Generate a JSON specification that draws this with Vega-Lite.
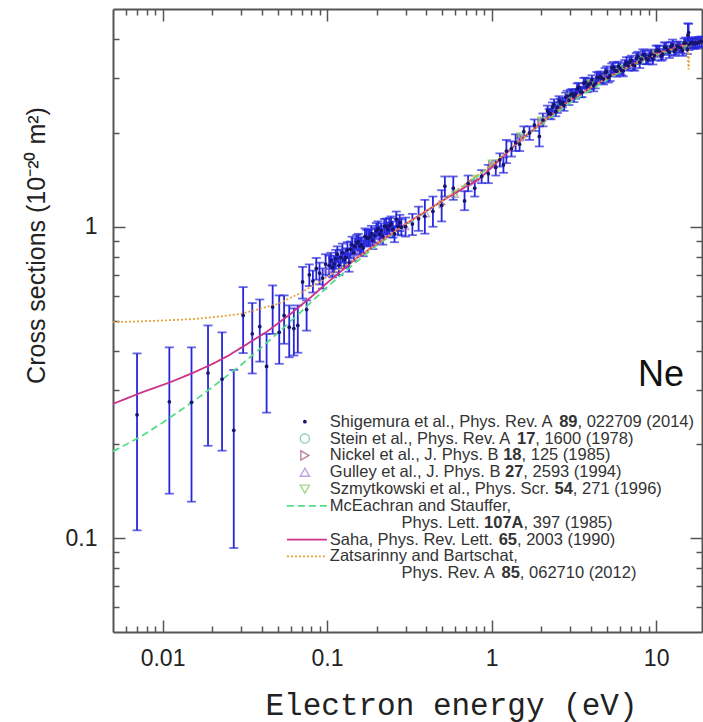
{
  "$schema": "https://vega.github.io/schema/vega-lite/v6.json",
  "width": 589,
  "height": 623,
  "autosize": {"type": "none"},
  "padding": {"left": 113, "top": 9, "right": 1, "bottom": 90},
  "background": "white",
  "config": {"view": {"stroke": null}, "font": "Liberation Sans"},
  "datasets": {
    "shigemura": [
      {"E":0.0070,"cs":0.249,"lo":0.106,"hi":0.392},
      {"E":0.0110,"cs":0.274,"lo":0.139,"hi":0.410},
      {"E":0.0150,"cs":0.273,"lo":0.131,"hi":0.410},
      {"E":0.0189,"cs":0.339,"lo":0.198,"hi":0.482},
      {"E":0.0230,"cs":0.324,"lo":0.191,"hi":0.458},
      {"E":0.0271,"cs":0.222,"lo":0.093,"hi":0.347},
      {"E":0.0309,"cs":0.519,"lo":0.393,"hi":0.640},
      {"E":0.0351,"cs":0.453,"lo":0.338,"hi":0.569},
      {"E":0.0390,"cs":0.478,"lo":0.369,"hi":0.584},
      {"E":0.0429,"cs":0.356,"lo":0.253,"hi":0.453},
      {"E":0.0467,"cs":0.552,"lo":0.453,"hi":0.648},
      {"E":0.0512,"cs":0.458,"lo":0.363,"hi":0.602},
      {"E":0.0548,"cs":0.519,"lo":0.421,"hi":0.602},
      {"E":0.0589,"cs":0.476,"lo":0.381,"hi":0.559},
      {"E":0.0628,"cs":0.471,"lo":0.386,"hi":0.547},
      {"E":0.0664,"cs":0.482,"lo":0.394,"hi":0.559},
      {"E":0.0710,"cs":0.665,"lo":0.588,"hi":0.743},
      {"E":0.0751,"cs":0.542,"lo":0.464,"hi":0.580},
      {"E":0.078,"cs":0.701,"lo":0.645,"hi":0.757},
      {"E":0.082,"cs":0.669,"lo":0.615,"hi":0.723},
      {"E":0.086,"cs":0.735,"lo":0.676,"hi":0.794},
      {"E":0.090,"cs":0.710,"lo":0.653,"hi":0.767},
      {"E":0.094,"cs":0.684,"lo":0.633,"hi":0.735},
      {"E":0.098,"cs":0.759,"lo":0.702,"hi":0.816},
      {"E":0.103,"cs":0.752,"lo":0.696,"hi":0.808},
      {"E":0.1055,"cs":0.778,"lo":0.731,"hi":0.825},
      {"E":0.108,"cs":0.740,"lo":0.688,"hi":0.792},
      {"E":0.1105,"cs":0.760,"lo":0.714,"hi":0.806},
      {"E":0.113,"cs":0.788,"lo":0.733,"hi":0.843},
      {"E":0.1155,"cs":0.816,"lo":0.767,"hi":0.865},
      {"E":0.118,"cs":0.752,"lo":0.699,"hi":0.805},
      {"E":0.121,"cs":0.796,"lo":0.748,"hi":0.844},
      {"E":0.124,"cs":0.825,"lo":0.767,"hi":0.883},
      {"E":0.127,"cs":0.783,"lo":0.736,"hi":0.830},
      {"E":0.130,"cs":0.797,"lo":0.741,"hi":0.853},
      {"E":0.133,"cs":0.842,"lo":0.791,"hi":0.893},
      {"E":0.136,"cs":0.767,"lo":0.717,"hi":0.817},
      {"E":0.139,"cs":0.846,"lo":0.795,"hi":0.897},
      {"E":0.142,"cs":0.876,"lo":0.823,"hi":0.929},
      {"E":0.145,"cs":0.825,"lo":0.776,"hi":0.875},
      {"E":0.148,"cs":0.864,"lo":0.812,"hi":0.916},
      {"E":0.1515,"cs":0.888,"lo":0.835,"hi":0.941},
      {"E":0.155,"cs":0.895,"lo":0.841,"hi":0.949},
      {"E":0.1585,"cs":0.868,"lo":0.816,"hi":0.920},
      {"E":0.162,"cs":0.874,"lo":0.822,"hi":0.926},
      {"E":0.166,"cs":0.855,"lo":0.804,"hi":0.906},
      {"E":0.170,"cs":0.932,"lo":0.876,"hi":0.988},
      {"E":0.174,"cs":0.922,"lo":0.867,"hi":0.977},
      {"E":0.178,"cs":0.919,"lo":0.864,"hi":0.974},
      {"E":0.182,"cs":0.926,"lo":0.870,"hi":0.982},
      {"E":0.186,"cs":0.950,"lo":0.893,"hi":1.007},
      {"E":0.190,"cs":0.902,"lo":0.848,"hi":0.956},
      {"E":0.195,"cs":0.936,"lo":0.880,"hi":0.992},
      {"E":0.1995,"cs":0.970,"lo":0.912,"hi":1.028},
      {"E":0.204,"cs":0.987,"lo":0.933,"hi":1.041},
      {"E":0.2085,"cs":0.947,"lo":0.890,"hi":1.004},
      {"E":0.213,"cs":0.971,"lo":0.918,"hi":1.024},
      {"E":0.218,"cs":0.932,"lo":0.876,"hi":0.988},
      {"E":0.223,"cs":1.004,"lo":0.949,"hi":1.059},
      {"E":0.2285,"cs":1.002,"lo":0.942,"hi":1.062},
      {"E":0.234,"cs":0.980,"lo":0.926,"hi":1.034},
      {"E":0.2395,"cs":1.007,"lo":0.947,"hi":1.067},
      {"E":0.245,"cs":1.023,"lo":0.967,"hi":1.079},
      {"E":0.251,"cs":0.981,"lo":0.922,"hi":1.040},
      {"E":0.257,"cs":0.949,"lo":0.892,"hi":1.006},
      {"E":0.2635,"cs":1.056,"lo":0.993,"hi":1.119},
      {"E":0.270,"cs":1.003,"lo":0.943,"hi":1.063},
      {"E":0.2765,"cs":1.030,"lo":0.968,"hi":1.092},
      {"E":0.283,"cs":0.997,"lo":0.937,"hi":1.057},
      {"E":0.300,"cs":1.00,"lo":0.93,"hi":1.07},
      {"E":0.330,"cs":1.02,"lo":0.94,"hi":1.10},
      {"E":0.360,"cs":1.06,"lo":0.97,"hi":1.16},
      {"E":0.393,"cs":1.08,"lo":0.95,"hi":1.22},
      {"E":0.440,"cs":1.12,"lo":1.00,"hi":1.25},
      {"E":0.497,"cs":1.17,"lo":1.04,"hi":1.31},
      {"E":0.520,"cs":1.35,"lo":1.25,"hi":1.45},
      {"E":0.585,"cs":1.33,"lo":1.22,"hi":1.45},
      {"E":0.685,"cs":1.21,"lo":1.13,"hi":1.30},
      {"E":0.720,"cs":1.38,"lo":1.30,"hi":1.46},
      {"E":0.790,"cs":1.33,"lo":1.25,"hi":1.41},
      {"E":0.870,"cs":1.45,"lo":1.38,"hi":1.52},
      {"E":0.955,"cs":1.48,"lo":1.38,"hi":1.58},
      {"E":1.060,"cs":1.55,"lo":1.46,"hi":1.63},
      {"E":1.123,"cs":1.64,"lo":1.56,"hi":1.72},
      {"E":1.180,"cs":1.58,"lo":1.49,"hi":1.67},
      {"E":1.230,"cs":1.75,"lo":1.60,"hi":1.90},
      {"E":1.320,"cs":1.78,"lo":1.68,"hi":1.88},
      {"E":1.400,"cs":1.86,"lo":1.75,"hi":1.98},
      {"E":1.480,"cs":1.84,"lo":1.75,"hi":1.93},
      {"E":1.570,"cs":2.02,"lo":1.95,"hi":2.10},
      {"E":1.700,"cs":2.00,"lo":1.90,"hi":2.10},
      {"E":1.820,"cs":2.12,"lo":2.03,"hi":2.21},
      {"E":1.950,"cs":1.95,"lo":1.81,"hi":2.10},
      {"E":2.050,"cs":2.20,"lo":2.10,"hi":2.31},
      {"E":2.188,"cs":2.354,"lo":2.260,"hi":2.448},
      {"E":2.239,"cs":2.306,"lo":2.225,"hi":2.387},
      {"E":2.291,"cs":2.304,"lo":2.212,"hi":2.396},
      {"E":2.344,"cs":2.421,"lo":2.336,"hi":2.506},
      {"E":2.399,"cs":2.467,"lo":2.368,"hi":2.566},
      {"E":2.455,"cs":2.344,"lo":2.262,"hi":2.426},
      {"E":2.512,"cs":2.415,"lo":2.318,"hi":2.512},
      {"E":2.570,"cs":2.536,"lo":2.447,"hi":2.625},
      {"E":2.630,"cs":2.484,"lo":2.385,"hi":2.583},
      {"E":2.692,"cs":2.506,"lo":2.418,"hi":2.594},
      {"E":2.754,"cs":2.453,"lo":2.355,"hi":2.551},
      {"E":2.818,"cs":2.603,"lo":2.512,"hi":2.694},
      {"E":2.884,"cs":2.628,"lo":2.523,"hi":2.733},
      {"E":2.951,"cs":2.547,"lo":2.458,"hi":2.636},
      {"E":3.020,"cs":2.649,"lo":2.543,"hi":2.755},
      {"E":3.090,"cs":2.672,"lo":2.578,"hi":2.766},
      {"E":3.162,"cs":2.618,"lo":2.513,"hi":2.723},
      {"E":3.236,"cs":2.668,"lo":2.575,"hi":2.761},
      {"E":3.311,"cs":2.773,"lo":2.662,"hi":2.884},
      {"E":3.388,"cs":2.799,"lo":2.701,"hi":2.897},
      {"E":3.467,"cs":2.711,"lo":2.603,"hi":2.819},
      {"E":3.548,"cs":2.701,"lo":2.606,"hi":2.796},
      {"E":3.631,"cs":2.888,"lo":2.772,"hi":3.004},
      {"E":3.715,"cs":2.908,"lo":2.806,"hi":3.010},
      {"E":3.802,"cs":2.814,"lo":2.701,"hi":2.927},
      {"E":3.890,"cs":2.862,"lo":2.762,"hi":2.962},
      {"E":3.981,"cs":2.881,"lo":2.766,"hi":2.996},
      {"E":4.074,"cs":2.959,"lo":2.855,"hi":3.063},
      {"E":4.169,"cs":2.833,"lo":2.720,"hi":2.946},
      {"E":4.266,"cs":2.882,"lo":2.781,"hi":2.983},
      {"E":4.365,"cs":3.019,"lo":2.898,"hi":3.140},
      {"E":4.467,"cs":3.011,"lo":2.906,"hi":3.116},
      {"E":4.571,"cs":3.031,"lo":2.910,"hi":3.152},
      {"E":4.677,"cs":2.992,"lo":2.887,"hi":3.097},
      {"E":4.786,"cs":2.981,"lo":2.862,"hi":3.100},
      {"E":4.898,"cs":3.124,"lo":3.015,"hi":3.233},
      {"E":5.012,"cs":3.146,"lo":3.020,"hi":3.272},
      {"E":5.129,"cs":3.008,"lo":2.903,"hi":3.113},
      {"E":5.248,"cs":3.057,"lo":2.935,"hi":3.179},
      {"E":5.370,"cs":3.230,"lo":3.117,"hi":3.343},
      {"E":5.495,"cs":3.249,"lo":3.119,"hi":3.379},
      {"E":5.623,"cs":3.172,"lo":3.061,"hi":3.283},
      {"E":5.754,"cs":3.157,"lo":3.031,"hi":3.283},
      {"E":5.888,"cs":3.272,"lo":3.157,"hi":3.387},
      {"E":6.026,"cs":3.226,"lo":3.097,"hi":3.355},
      {"E":6.166,"cs":3.179,"lo":3.068,"hi":3.290},
      {"E":6.310,"cs":3.164,"lo":3.037,"hi":3.291},
      {"E":6.457,"cs":3.314,"lo":3.198,"hi":3.430},
      {"E":6.607,"cs":3.365,"lo":3.230,"hi":3.500},
      {"E":6.761,"cs":3.285,"lo":3.170,"hi":3.400},
      {"E":6.918,"cs":3.369,"lo":3.234,"hi":3.504},
      {"E":7.079,"cs":3.422,"lo":3.302,"hi":3.542},
      {"E":7.244,"cs":3.307,"lo":3.175,"hi":3.439},
      {"E":7.413,"cs":3.287,"lo":3.172,"hi":3.402},
      {"E":7.586,"cs":3.473,"lo":3.334,"hi":3.612},
      {"E":7.762,"cs":3.523,"lo":3.400,"hi":3.646},
      {"E":7.943,"cs":3.367,"lo":3.232,"hi":3.502},
      {"E":8.128,"cs":3.451,"lo":3.330,"hi":3.572},
      {"E":8.318,"cs":3.571,"lo":3.428,"hi":3.714},
      {"E":8.511,"cs":3.553,"lo":3.429,"hi":3.677},
      {"E":8.710,"cs":3.464,"lo":3.325,"hi":3.603},
      {"E":8.913,"cs":3.445,"lo":3.324,"hi":3.566},
      {"E":9.120,"cs":3.531,"lo":3.390,"hi":3.672},
      {"E":9.333,"cs":3.583,"lo":3.458,"hi":3.708},
      {"E":9.550,"cs":3.456,"lo":3.318,"hi":3.594},
      {"E":9.772,"cs":3.544,"lo":3.420,"hi":3.668},
      {"E":10.00,"cs":3.667,"lo":3.520,"hi":3.814},
      {"E":10.23,"cs":3.684,"lo":3.555,"hi":3.813},
      {"E":10.47,"cs":3.664,"lo":3.517,"hi":3.811},
      {"E":10.72,"cs":3.533,"lo":3.409,"hi":3.657},
      {"E":10.96,"cs":3.580,"lo":3.437,"hi":3.723},
      {"E":11.22,"cs":3.774,"lo":3.642,"hi":3.906},
      {"E":11.48,"cs":3.750,"lo":3.600,"hi":3.900},
      {"E":11.75,"cs":3.688,"lo":3.559,"hi":3.817},
      {"E":12.02,"cs":3.626,"lo":3.481,"hi":3.771},
      {"E":12.30,"cs":3.786,"lo":3.653,"hi":3.919},
      {"E":12.59,"cs":3.836,"lo":3.683,"hi":3.989},
      {"E":12.88,"cs":3.661,"lo":3.533,"hi":3.789},
      {"E":13.18,"cs":3.711,"lo":3.563,"hi":3.859},
      {"E":13.49,"cs":3.798,"lo":3.665,"hi":3.931},
      {"E":13.80,"cs":3.772,"lo":3.621,"hi":3.923},
      {"E":14.13,"cs":3.746,"lo":3.615,"hi":3.877},
      {"E":14.45,"cs":3.682,"lo":3.535,"hi":3.829},
      {"E":14.79,"cs":3.884,"lo":3.748,"hi":4.020},
      {"E":15.14,"cs":3.894,"lo":3.738,"hi":4.050},
      {"E":15.49,"cs":3.715,"lo":3.585,"hi":3.845},
      {"E":15.60,"cs":4.12,"lo":3.90,"hi":4.50},
      {"E":15.75,"cs":4.20,"lo":3.95,"hi":4.48},
      {"E":15.85,"cs":3.84,"lo":3.69,"hi":3.99},
      {"E":16.22,"cs":3.890,"lo":3.754,"hi":4.026},
      {"E":16.60,"cs":3.901,"lo":3.745,"hi":4.057},
      {"E":16.98,"cs":3.87,"lo":3.72,"hi":4.02},
      {"E":17.40,"cs":3.90,"lo":3.75,"hi":4.05},
      {"E":17.80,"cs":3.88,"lo":3.73,"hi":4.03},
      {"E":18.30,"cs":3.92,"lo":3.77,"hi":4.07},
      {"E":18.80,"cs":3.93,"lo":3.78,"hi":4.08}
    ],
    "others": [
      {"series":"Stein","E":1.5,"cs":1.93},{"series":"Stein","E":2,"cs":2.18},{"series":"Stein","E":2.5,"cs":2.42},
      {"series":"Stein","E":3,"cs":2.6},{"series":"Stein","E":4,"cs":2.9},{"series":"Stein","E":5,"cs":3.06},
      {"series":"Stein","E":6,"cs":3.2},{"series":"Stein","E":8,"cs":3.42},{"series":"Stein","E":10,"cs":3.57},
      {"series":"Stein","E":12,"cs":3.68},{"series":"Stein","E":15,"cs":3.8},
      {"series":"Nickel","E":0.5,"cs":1.18},{"series":"Nickel","E":0.75,"cs":1.38},{"series":"Nickel","E":1,"cs":1.58},
      {"series":"Nickel","E":1.5,"cs":1.92},{"series":"Nickel","E":2,"cs":2.17},{"series":"Nickel","E":3,"cs":2.6},
      {"series":"Nickel","E":4,"cs":2.88},{"series":"Nickel","E":5,"cs":3.05},{"series":"Nickel","E":7,"cs":3.32},
      {"series":"Nickel","E":10,"cs":3.57},{"series":"Nickel","E":14,"cs":3.76},
      {"series":"Gulley","E":0.1,"cs":0.73},{"series":"Gulley","E":0.15,"cs":0.82},{"series":"Gulley","E":0.2,"cs":0.9},
      {"series":"Gulley","E":0.3,"cs":1.0},{"series":"Gulley","E":0.4,"cs":1.1},{"series":"Gulley","E":0.6,"cs":1.27},
      {"series":"Gulley","E":0.8,"cs":1.42},{"series":"Gulley","E":1,"cs":1.58},{"series":"Gulley","E":1.5,"cs":1.93},
      {"series":"Gulley","E":2,"cs":2.18},{"series":"Gulley","E":3,"cs":2.6},{"series":"Gulley","E":5,"cs":3.05},
      {"series":"Gulley","E":7,"cs":3.32},{"series":"Gulley","E":10,"cs":3.57},
      {"series":"Szmytkowski","E":0.6,"cs":1.27},{"series":"Szmytkowski","E":0.8,"cs":1.43},{"series":"Szmytkowski","E":1,"cs":1.6},
      {"series":"Szmytkowski","E":1.5,"cs":1.96},{"series":"Szmytkowski","E":2,"cs":2.2},{"series":"Szmytkowski","E":3,"cs":2.62},
      {"series":"Szmytkowski","E":4,"cs":2.9},{"series":"Szmytkowski","E":6,"cs":3.22},{"series":"Szmytkowski","E":8,"cs":3.44},
      {"series":"Szmytkowski","E":10,"cs":3.6},{"series":"Szmytkowski","E":15,"cs":3.82}
    ],
    "theory": [
      {"series":"McEachran","E":0.005,"cs":0.19},{"series":"McEachran","E":0.0075,"cs":0.213},{"series":"McEachran","E":0.01,"cs":0.235},
      {"series":"McEachran","E":0.015,"cs":0.272},{"series":"McEachran","E":0.02,"cs":0.305},{"series":"McEachran","E":0.03,"cs":0.36},
      {"series":"McEachran","E":0.04,"cs":0.41},{"series":"McEachran","E":0.05,"cs":0.455},{"series":"McEachran","E":0.07,"cs":0.535},
      {"series":"McEachran","E":0.1,"cs":0.64},{"series":"McEachran","E":0.15,"cs":0.77},{"series":"McEachran","E":0.2,"cs":0.87},
      {"series":"McEachran","E":0.3,"cs":1.01},{"series":"McEachran","E":0.5,"cs":1.21},{"series":"McEachran","E":0.7,"cs":1.37},
      {"series":"McEachran","E":1,"cs":1.57},{"series":"McEachran","E":1.5,"cs":1.9},{"series":"McEachran","E":2,"cs":2.13},
      {"series":"McEachran","E":3,"cs":2.5},{"series":"McEachran","E":5,"cs":2.96},{"series":"McEachran","E":7,"cs":3.28},
      {"series":"McEachran","E":10,"cs":3.56},{"series":"McEachran","E":15,"cs":3.82},{"series":"McEachran","E":19,"cs":3.93},
      {"series":"Saha","E":0.005,"cs":0.27},{"series":"Saha","E":0.0075,"cs":0.294},{"series":"Saha","E":0.011,"cs":0.316},
      {"series":"Saha","E":0.015,"cs":0.338},{"series":"Saha","E":0.02,"cs":0.362},{"series":"Saha","E":0.025,"cs":0.385},
      {"series":"Saha","E":0.031,"cs":0.413},{"series":"Saha","E":0.043,"cs":0.46},{"series":"Saha","E":0.06,"cs":0.525},
      {"series":"Saha","E":0.08,"cs":0.595},{"series":"Saha","E":0.1,"cs":0.66},{"series":"Saha","E":0.15,"cs":0.79},
      {"series":"Saha","E":0.2,"cs":0.88},{"series":"Saha","E":0.3,"cs":1.02},{"series":"Saha","E":0.5,"cs":1.21},
      {"series":"Saha","E":0.85,"cs":1.43},{"series":"Saha","E":1,"cs":1.55},{"series":"Saha","E":1.5,"cs":1.9},
      {"series":"Saha","E":2,"cs":2.15},{"series":"Saha","E":3,"cs":2.55},{"series":"Saha","E":5,"cs":3.0},
      {"series":"Saha","E":7,"cs":3.3},{"series":"Saha","E":10,"cs":3.6},{"series":"Saha","E":15,"cs":3.85},
      {"series":"Saha","E":19,"cs":3.95},
      {"series":"Zatsarinny","E":0.005,"cs":0.494},{"series":"Zatsarinny","E":0.0075,"cs":0.497},{"series":"Zatsarinny","E":0.01,"cs":0.5},
      {"series":"Zatsarinny","E":0.015,"cs":0.505},{"series":"Zatsarinny","E":0.02,"cs":0.512},{"series":"Zatsarinny","E":0.03,"cs":0.525},
      {"series":"Zatsarinny","E":0.05,"cs":0.565},{"series":"Zatsarinny","E":0.07,"cs":0.615},{"series":"Zatsarinny","E":0.1,"cs":0.69},
      {"series":"Zatsarinny","E":0.15,"cs":0.79},{"series":"Zatsarinny","E":0.2,"cs":0.88},{"series":"Zatsarinny","E":0.3,"cs":1.02},
      {"series":"Zatsarinny","E":0.5,"cs":1.21},{"series":"Zatsarinny","E":1,"cs":1.58},{"series":"Zatsarinny","E":2,"cs":2.15},
      {"series":"Zatsarinny","E":3,"cs":2.55},{"series":"Zatsarinny","E":5,"cs":3.0},{"series":"Zatsarinny","E":7,"cs":3.3},
      {"series":"Zatsarinny","E":10,"cs":3.58},{"series":"Zatsarinny","E":14,"cs":3.78},{"series":"Zatsarinny","E":15.4,"cs":3.82},
      {"series":"Zatsarinny","E":15.6,"cs":3.5},{"series":"Zatsarinny","E":15.75,"cs":3.2},{"series":"Zatsarinny","E":15.9,"cs":3.7},
      {"series":"Zatsarinny","E":16.1,"cs":3.85},{"series":"Zatsarinny","E":19,"cs":3.95}
    ],
    "legendKeys": [
      {"row":1,"series":"Shigemura","kind":"dot"},
      {"row":2,"series":"Stein","kind":"symbol"},
      {"row":3,"series":"Nickel","kind":"symbol"},
      {"row":4,"series":"Gulley","kind":"symbol"},
      {"row":5,"series":"Szmytkowski","kind":"symbol"},
      {"row":6,"series":"McEachran","kind":"line"},
      {"row":8,"series":"Saha","kind":"line"},
      {"row":9,"series":"Zatsarinny","kind":"line"}
    ],
    "legendText": [
      {"row":1,"pre":"Shigemura et al., Phys. Rev. A ","bold":"89","post":", 022709 (2014)"},
      {"row":2,"pre":"Stein et al., Phys. Rev. A ","bold":"17","post":", 1600 (1978)"},
      {"row":3,"pre":"Nickel et al., J. Phys. B ","bold":"18","post":", 125 (1985)"},
      {"row":4,"pre":"Gulley et al., J. Phys. B ","bold":"27","post":", 2593 (1994)"},
      {"row":5,"pre":"Szmytkowski et al., Phys. Scr. ","bold":"54","post":", 271 (1996)"},
      {"row":6,"pre":"McEachran and Stauffer,","bold":"","post":""},
      {"row":7,"pre":"Phys. Lett. ","bold":"107A","post":", 397 (1985)"},
      {"row":8,"pre":"Saha, Phys. Rev. Lett. ","bold":"65","post":", 2003 (1990)"},
      {"row":9,"pre":"Zatsarinny and Bartschat,","bold":"","post":""},
      {"row":10,"pre":"Phys. Rev. A ","bold":"85","post":", 062710 (2012)"}
    ]
  },
  "layer": [
    {
      "layer": [
        {
          "data": {"name": "shigemura"},
          "mark": {"type": "errorbar", "color": "#2626dc", "ticks": true, "size": 9, "thickness": 1.8},
          "encoding": {
            "x": {"field": "E", "type": "quantitative", "scale": {"type": "log", "domain": [0.005, 19], "nice": false}, "axis": null},
            "y": {"field": "lo", "type": "quantitative", "scale": {"type": "log", "domain": [0.05, 5], "nice": false}, "axis": null},
            "y2": {"field": "hi"}
          }
        },
        {
          "data": {"name": "others"},
          "mark": {"type": "point", "filled": false, "size": 45, "strokeWidth": 1.3},
          "encoding": {
            "x": {"field": "E", "type": "quantitative", "scale": {"type": "log", "domain": [0.005, 19], "nice": false}, "axis": null},
            "y": {"field": "cs", "type": "quantitative", "scale": {"type": "log", "domain": [0.05, 5], "nice": false}, "axis": null},
            "color": {"field": "series", "type": "nominal", "legend": null,
              "scale": {"domain": ["Stein", "Nickel", "Gulley", "Szmytkowski", "McEachran", "Saha", "Zatsarinny"],
                        "range": ["#66bba0", "#9e4f7f", "#a877cf", "#7fc85a", "#55dd88", "#cc3388", "#e6a23c"]}},
            "shape": {"field": "series", "type": "nominal", "legend": null,
              "scale": {"domain": ["Stein", "Nickel", "Gulley", "Szmytkowski"],
                        "range": ["circle", "triangle-right", "triangle-up", "triangle-down"]}}
          }
        },
        {
          "data": {"name": "theory"},
          "mark": {"type": "line", "strokeWidth": 1.8},
          "encoding": {
            "x": {"field": "E", "type": "quantitative", "scale": {"type": "log", "domain": [0.005, 19], "nice": false},
              "axis": {
                "orient": "bottom",
                "values": [0.006,0.007,0.008,0.009,0.01,0.02,0.03,0.04,0.05,0.06,0.07,0.08,0.09,0.1,0.2,0.3,0.4,0.5,0.6,0.7,0.8,0.9,1,2,3,4,5,6,7,8,9,10],
                "labelExpr": "datum.value == 0.01 ? '0.01' : datum.value == 0.1 ? '0.1' : datum.value == 1 ? '1' : datum.value == 10 ? '10' : ''",
                "tickSize": {"condition": {"test": "datum.value == 0.01 || datum.value == 0.1 || datum.value == 1 || datum.value == 10", "value": -12}, "value": -6},
                "labelPadding": 27, "labelFontSize": 23, "labelColor": "#222", "labelFont": "Liberation Sans",
                "labelOverlap": false, "labelFlush": false, "labelBound": false,
                "tickColor": "#555", "tickWidth": 1.5, "domainColor": "#555", "domainWidth": 2, "grid": false,
                "title": "Electron energy (eV)", "titleFont": "Liberation Mono", "titleFontSize": 31, "titleFontWeight": "normal",
                "titleColor": "#222", "titleX": 338, "titleY": 82, "titleBaseline": "alphabetic", "titleAlign": "center"
              }},
            "y": {"field": "cs", "type": "quantitative", "scale": {"type": "log", "domain": [0.05, 5], "nice": false},
              "axis": {
                "orient": "left",
                "values": [0.06,0.07,0.08,0.09,0.1,0.2,0.3,0.4,0.5,0.6,0.7,0.8,0.9,1,2,3,4],
                "labelExpr": "datum.value == 0.1 ? '0.1' : datum.value == 1 ? '1' : ''",
                "tickSize": {"condition": {"test": "datum.value == 0.1 || datum.value == 1", "value": -12}, "value": -6},
                "labelPadding": 28, "labelFontSize": 23, "labelColor": "#222", "labelFont": "Liberation Sans",
                "labelOverlap": false, "labelFlush": false, "labelBound": false,
                "tickColor": "#555", "tickWidth": 1.5, "domainColor": "#555", "domainWidth": 2, "grid": false,
                "title": "Cross sections (10⁻²⁰ m²)", "titleFont": "Liberation Sans", "titleFontSize": 25, "titleFontWeight": "normal",
                "titleColor": "#222", "titleX": -69, "titleY": 236, "titleAngle": 270, "titleBaseline": "alphabetic", "titleAlign": "center"
              }},
            "color": {"field": "series", "type": "nominal", "legend": null,
              "scale": {"domain": ["Stein", "Nickel", "Gulley", "Szmytkowski", "McEachran", "Saha", "Zatsarinny"],
                        "range": ["#66bba0", "#9e4f7f", "#a877cf", "#7fc85a", "#55dd88", "#cc3388", "#e6a23c"]}},
            "strokeDash": {"field": "series", "type": "nominal", "legend": null,
              "scale": {"domain": ["McEachran", "Saha", "Zatsarinny"], "range": [[7, 4], [1, 0], [2, 2]]}}
          }
        },
        {
          "data": {"name": "shigemura"},
          "mark": {"type": "point", "filled": true, "size": 14, "opacity": 1, "color": "#15156e"},
          "encoding": {
            "x": {"field": "E", "type": "quantitative", "scale": {"type": "log", "domain": [0.005, 19], "nice": false},
              "axis": {
                "orient": "top", "labels": false, "title": null,
                "values": [0.006,0.007,0.008,0.009,0.01,0.02,0.03,0.04,0.05,0.06,0.07,0.08,0.09,0.1,0.2,0.3,0.4,0.5,0.6,0.7,0.8,0.9,1,2,3,4,5,6,7,8,9,10],
                "tickSize": {"condition": {"test": "datum.value == 0.01 || datum.value == 0.1 || datum.value == 1 || datum.value == 10", "value": -12}, "value": -6},
                "tickColor": "#555", "tickWidth": 1.5, "domainColor": "#555", "domainWidth": 2, "grid": false
              }},
            "y": {"field": "cs", "type": "quantitative", "scale": {"type": "log", "domain": [0.05, 5], "nice": false},
              "axis": {
                "orient": "right", "labels": false, "title": null,
                "values": [0.06,0.07,0.08,0.09,0.1,0.2,0.3,0.4,0.5,0.6,0.7,0.8,0.9,1,2,3,4],
                "tickSize": {"condition": {"test": "datum.value == 0.1 || datum.value == 1", "value": -12}, "value": -6},
                "tickColor": "#555", "tickWidth": 1.5, "domainColor": "#555", "domainWidth": 2, "grid": false
              }}
          }
        },
        {
          "data": {"values": [{"label": "Ne"}]},
          "mark": {"type": "text", "fontSize": 36, "font": "Liberation Sans", "color": "#111", "align": "center", "baseline": "alphabetic"},
          "encoding": {
            "x": {"datum": 10.7, "type": "quantitative", "scale": {"type": "log", "domain": [0.005, 19], "nice": false}, "axis": null},
            "y": {"datum": 0.309, "type": "quantitative", "scale": {"type": "log", "domain": [0.05, 5], "nice": false}, "axis": null},
            "text": {"field": "label"}
          }
        }
      ],
      "resolve": {"axis": {"x": "independent", "y": "independent"}}
    },
    {
      "encoding": {
        "y": {"field": "row", "type": "quantitative", "axis": null,
          "scale": {"domain": [1, 10], "range": [412.7, 564.3], "nice": false, "zero": false}}
      },
      "layer": [
        {
          "data": {"name": "legendKeys"},
          "transform": [{"filter": "datum.kind == 'line'"}],
          "mark": {"type": "rule", "strokeWidth": 1.8},
          "encoding": {
            "x": {"datum": 0.057, "type": "quantitative", "axis": null},
            "x2": {"datum": 0.0997},
            "color": {"field": "series", "type": "nominal", "legend": null,
              "scale": {"domain": ["Stein", "Nickel", "Gulley", "Szmytkowski", "McEachran", "Saha", "Zatsarinny"],
                        "range": ["#66bba0", "#9e4f7f", "#a877cf", "#7fc85a", "#55dd88", "#cc3388", "#e6a23c"]}},
            "strokeDash": {"field": "series", "type": "nominal", "legend": null,
              "scale": {"domain": ["McEachran", "Saha", "Zatsarinny"], "range": [[7, 4], [1, 0], [2, 2]]}}
          }
        },
        {
          "data": {"name": "legendKeys"},
          "transform": [{"filter": "datum.kind == 'symbol'"}],
          "mark": {"type": "point", "filled": false, "size": 85, "strokeWidth": 1.4},
          "encoding": {
            "x": {"datum": 0.0733, "type": "quantitative", "axis": null},
            "color": {"field": "series", "type": "nominal", "legend": null,
              "scale": {"domain": ["Stein", "Nickel", "Gulley", "Szmytkowski", "McEachran", "Saha", "Zatsarinny"],
                        "range": ["#66bba0", "#9e4f7f", "#a877cf", "#7fc85a", "#55dd88", "#cc3388", "#e6a23c"]}},
            "shape": {"field": "series", "type": "nominal", "legend": null,
              "scale": {"domain": ["Stein", "Nickel", "Gulley", "Szmytkowski"],
                        "range": ["circle", "triangle-right", "triangle-up", "triangle-down"]}}
          }
        },
        {
          "data": {"name": "legendKeys"},
          "transform": [{"filter": "datum.kind == 'dot'"}],
          "mark": {"type": "point", "filled": true, "size": 14, "opacity": 1, "color": "#15156e"},
          "encoding": {
            "x": {"datum": 0.0733, "type": "quantitative", "axis": null}
          }
        },
        {
          "data": {"name": "legendText"},
          "mark": {"type": "text", "align": "left", "baseline": "middle", "fontSize": 16.5, "font": "Liberation Sans", "color": "#333",
            "dx": {"expr": "[0, 0, 0, 0, 0, 0, 0, 71.7, 0, 0, 71.7][datum.row]"}},
          "encoding": {
            "x": {"datum": 0.104, "type": "quantitative", "axis": null},
            "text": {"field": "pre"}
          }
        },
        {
          "data": {"name": "legendText"},
          "mark": {"type": "text", "align": "left", "baseline": "middle", "fontSize": 16.5, "font": "Liberation Sans", "fontWeight": "bold", "color": "#333",
            "dx": {"expr": "[0, 229.3, 187.1, 173.3, 175.2, 224.6, 0, 154.2, 168.8, 0, 171.7][datum.row]"}},
          "encoding": {
            "x": {"datum": 0.104, "type": "quantitative", "axis": null},
            "text": {"field": "bold"}
          }
        },
        {
          "data": {"name": "legendText"},
          "mark": {"type": "text", "align": "left", "baseline": "middle", "fontSize": 16.5, "font": "Liberation Sans", "color": "#333",
            "dx": {"expr": "[0, 247.6, 205.4, 191.7, 193.5, 243.0, 0, 193.7, 187.1, 0, 190.0][datum.row]"}},
          "encoding": {
            "x": {"datum": 0.104, "type": "quantitative", "axis": null},
            "text": {"field": "post"}
          }
        }
      ]
    }
  ],
  "resolve": {"scale": {"y": "independent"}}
}
